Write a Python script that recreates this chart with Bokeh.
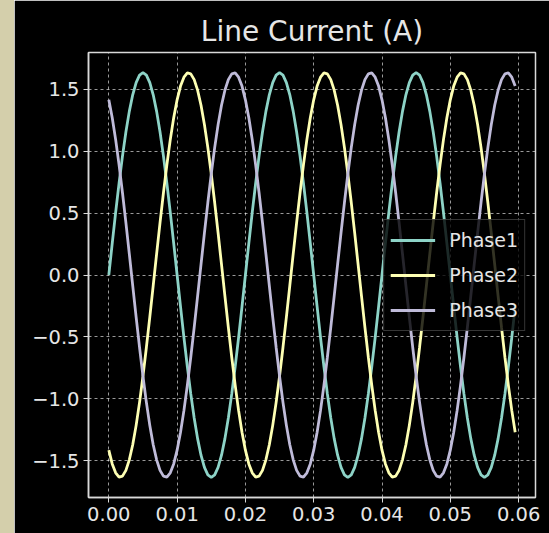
from bokeh.plotting import figure
from bokeh.models import Range1d, FixedTicker, CustomJSTickFormatter, Legend, LegendItem, Spacer
from bokeh.layouts import row
from bokeh.embed import file_html
from bokeh.resources import INLINE

# ---- data ----
time_s = [
    0.0000, 0.0005, 0.0010, 0.0015, 0.0020, 0.0025, 0.0030, 0.0035, 0.0040, 0.0045,
    0.0050, 0.0055, 0.0060, 0.0065, 0.0070, 0.0075, 0.0080, 0.0085, 0.0090, 0.0095,
    0.0100, 0.0105, 0.0110, 0.0115, 0.0120, 0.0125, 0.0130, 0.0135, 0.0140, 0.0145,
    0.0150, 0.0155, 0.0160, 0.0165, 0.0170, 0.0175, 0.0180, 0.0185, 0.0190, 0.0195,
    0.0200, 0.0205, 0.0210, 0.0215, 0.0220, 0.0225, 0.0230, 0.0235, 0.0240, 0.0245,
    0.0250, 0.0255, 0.0260, 0.0265, 0.0270, 0.0275, 0.0280, 0.0285, 0.0290, 0.0295,
    0.0300, 0.0305, 0.0310, 0.0315, 0.0320, 0.0325, 0.0330, 0.0335, 0.0340, 0.0345,
    0.0350, 0.0355, 0.0360, 0.0365, 0.0370, 0.0375, 0.0380, 0.0385, 0.0390, 0.0395,
    0.0400, 0.0405, 0.0410, 0.0415, 0.0420, 0.0425, 0.0430, 0.0435, 0.0440, 0.0445,
    0.0450, 0.0455, 0.0460, 0.0465, 0.0470, 0.0475, 0.0480, 0.0485, 0.0490, 0.0495,
    0.0500, 0.0505, 0.0510, 0.0515, 0.0520, 0.0525, 0.0530, 0.0535, 0.0540, 0.0545,
    0.0550, 0.0555, 0.0560, 0.0565, 0.0570, 0.0575, 0.0580, 0.0585, 0.0590, 0.0595,
]

phase1 = [
    0.000, 0.255, 0.505, 0.741, 0.960, 1.155, 1.321, 1.455, 1.553, 1.613,
    1.633, 1.613, 1.553, 1.455, 1.321, 1.155, 0.960, 0.741, 0.505, 0.255,
    0.000, -0.255, -0.505, -0.741, -0.960, -1.155, -1.321, -1.455, -1.553, -1.613,
    -1.633, -1.613, -1.553, -1.455, -1.321, -1.155, -0.960, -0.741, -0.505, -0.255,
    0.000, 0.255, 0.505, 0.741, 0.960, 1.155, 1.321, 1.455, 1.553, 1.613,
    1.633, 1.613, 1.553, 1.455, 1.321, 1.155, 0.960, 0.741, 0.505, 0.255,
    0.000, -0.255, -0.505, -0.741, -0.960, -1.155, -1.321, -1.455, -1.553, -1.613,
    -1.633, -1.613, -1.553, -1.455, -1.321, -1.155, -0.960, -0.741, -0.505, -0.255,
    0.000, 0.255, 0.505, 0.741, 0.960, 1.155, 1.321, 1.455, 1.553, 1.613,
    1.633, 1.613, 1.553, 1.455, 1.321, 1.155, 0.960, 0.741, 0.505, 0.255,
    0.000, -0.255, -0.505, -0.741, -0.960, -1.155, -1.321, -1.455, -1.553, -1.613,
    -1.633, -1.613, -1.553, -1.455, -1.321, -1.155, -0.960, -0.741, -0.505, -0.255,
]

phase2 = [
    -1.414, -1.525, -1.597, -1.631, -1.624, -1.577, -1.492, -1.370, -1.214, -1.028,
    -0.817, -0.585, -0.340, -0.085, 0.171, 0.423, 0.664, 0.889, 1.093, 1.269,
    1.414, 1.525, 1.597, 1.631, 1.624, 1.577, 1.492, 1.370, 1.214, 1.028,
    0.817, 0.585, 0.340, 0.085, -0.171, -0.423, -0.664, -0.889, -1.093, -1.269,
    -1.414, -1.525, -1.597, -1.631, -1.624, -1.577, -1.492, -1.370, -1.214, -1.028,
    -0.817, -0.585, -0.340, -0.085, 0.171, 0.423, 0.664, 0.889, 1.093, 1.269,
    1.414, 1.525, 1.597, 1.631, 1.624, 1.577, 1.492, 1.370, 1.214, 1.028,
    0.817, 0.585, 0.340, 0.085, -0.171, -0.423, -0.664, -0.889, -1.093, -1.269,
    -1.414, -1.525, -1.597, -1.631, -1.624, -1.577, -1.492, -1.370, -1.214, -1.028,
    -0.817, -0.585, -0.340, -0.085, 0.171, 0.423, 0.664, 0.889, 1.093, 1.269,
    1.414, 1.525, 1.597, 1.631, 1.624, 1.577, 1.492, 1.370, 1.214, 1.028,
    0.817, 0.585, 0.340, 0.085, -0.171, -0.423, -0.664, -0.889, -1.093, -1.269,
]

phase3 = [
    1.414, 1.269, 1.093, 0.889, 0.664, 0.423, 0.171, -0.085, -0.340, -0.585,
    -0.817, -1.028, -1.214, -1.370, -1.492, -1.577, -1.624, -1.631, -1.597, -1.525,
    -1.414, -1.269, -1.093, -0.889, -0.664, -0.423, -0.171, 0.085, 0.340, 0.585,
    0.817, 1.028, 1.214, 1.370, 1.492, 1.577, 1.624, 1.631, 1.597, 1.525,
    1.414, 1.269, 1.093, 0.889, 0.664, 0.423, 0.171, -0.085, -0.340, -0.585,
    -0.817, -1.028, -1.214, -1.370, -1.492, -1.577, -1.624, -1.631, -1.597, -1.525,
    -1.414, -1.269, -1.093, -0.889, -0.664, -0.423, -0.171, 0.085, 0.340, 0.585,
    0.817, 1.028, 1.214, 1.370, 1.492, 1.577, 1.624, 1.631, 1.597, 1.525,
    1.414, 1.269, 1.093, 0.889, 0.664, 0.423, 0.171, -0.085, -0.340, -0.585,
    -0.817, -1.028, -1.214, -1.370, -1.492, -1.577, -1.624, -1.631, -1.597, -1.525,
    -1.414, -1.269, -1.093, -0.889, -0.664, -0.423, -0.171, 0.085, 0.340, 0.585,
    0.817, 1.028, 1.214, 1.370, 1.492, 1.577, 1.624, 1.631, 1.597, 1.525,
]

series_names = ["Phase1", "Phase2", "Phase3"]
series_colors = ["#8dd3c7", "#feffb3", "#bfbbd9"]
x_ticks = [0.00, 0.01, 0.02, 0.03, 0.04, 0.05, 0.06]
y_ticks = [-1.5, -1.0, -0.5, 0.0, 0.5, 1.0, 1.5]
title_text = "Line Current (A)"

FONT = "DejaVu Sans"
TEXT_COL = "#e6e6e6"
SPINE_COL = "#d9d9d9"

p = figure(width=535, height=533, output_backend="svg", toolbar_location=None,
           x_range=Range1d(-0.002975, 0.062475), y_range=Range1d(-1.7963, 1.7963),
           min_border_left=74, min_border_right=14, min_border_top=52, min_border_bottom=36,
           background_fill_color="black", border_fill_color="black",
           title=title_text)

p.title.text_font = FONT
p.title.text_font_size = "28px"
p.title.text_font_style = "normal"
p.title.text_color = TEXT_COL
p.title.align = "center"

p.outline_line_color = SPINE_COL
p.outline_line_width = 1.5

p.xaxis.ticker = FixedTicker(ticks=x_ticks)
p.yaxis.ticker = FixedTicker(ticks=y_ticks)
p.xaxis.formatter = CustomJSTickFormatter(code="return tick.toFixed(2).replace('-', '\u2212');")
p.yaxis.formatter = CustomJSTickFormatter(code="return tick.toFixed(1).replace('-', '\u2212');")

for ax in (p.xaxis[0], p.yaxis[0]):
    ax.axis_line_color = SPINE_COL
    ax.axis_line_width = 1.5
    ax.major_tick_line_color = SPINE_COL
    ax.major_tick_line_width = 1
    ax.major_tick_in = 0
    ax.major_tick_out = 5
    ax.minor_tick_line_color = None
    ax.major_label_text_font = FONT
    ax.major_label_text_font_size = "19.5px"
    ax.major_label_text_color = TEXT_COL
    ax.major_label_standoff = 4

for g in (p.xgrid[0], p.ygrid[0]):
    g.grid_line_color = "#ffffff"
    g.grid_line_alpha = 0.6
    g.grid_line_dash = "3 3"
    g.grid_line_width = 1

items = []
for name, col, ys in zip(series_names, series_colors, [phase1, phase2, phase3]):
    r = p.line(time_s, ys, line_color=col, line_width=2.8)
    items.append(LegendItem(label=name, renderers=[r]))

legend = Legend(items=items, location="right")
legend.margin = 10
legend.padding = 6
legend.spacing = 7
legend.glyph_width = 45
legend.glyph_height = 28
legend.label_height = 28
legend.label_standoff = 14
legend.label_text_font = FONT
legend.label_text_font_size = "19px"
legend.label_text_color = TEXT_COL
legend.background_fill_color = "black"
legend.background_fill_alpha = 0.8
legend.border_line_color = "#6a6a6a"
legend.border_line_width = 1.5
p.add_layout(legend)

strip = Spacer(width=14, height=533, styles={"background-color": "#d4cfab"})
layout = row(strip, p, spacing=0)

open("out.html", "w").write(file_html(layout, INLINE))
